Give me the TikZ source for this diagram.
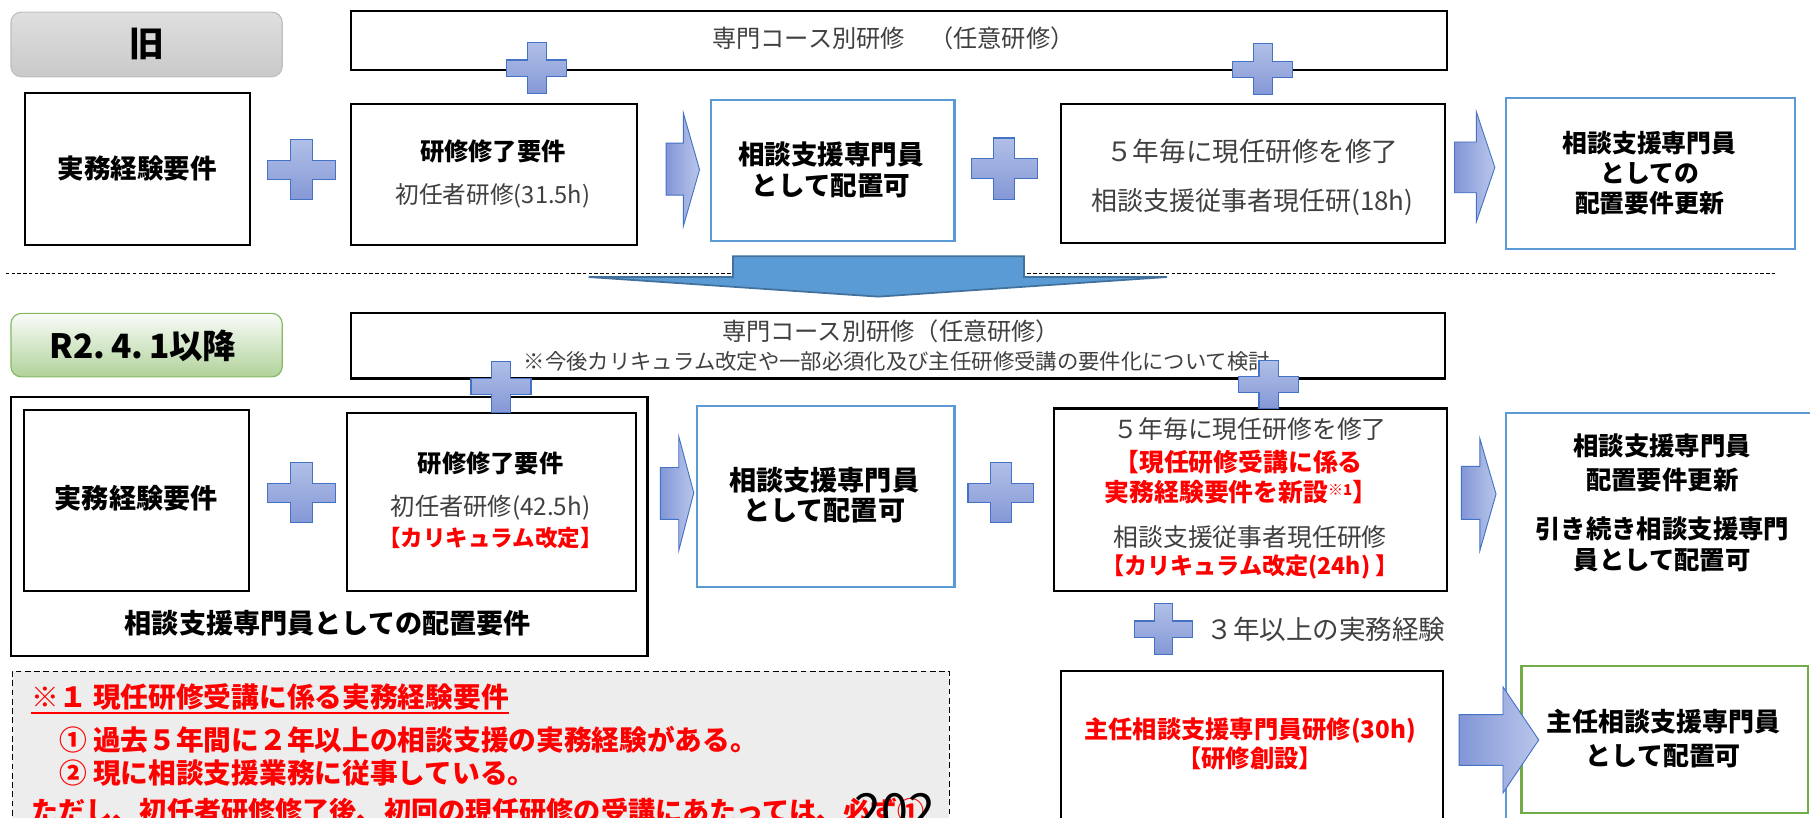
\documentclass[tikz,border=0pt]{standalone}
\usepackage{fontspec}
\setmainfont{Noto Sans CJK JP}
\definecolor{txtgray}{HTML}{404040}
\definecolor{boxblue}{HTML}{5B9BD5}
\definecolor{boxgreen}{HTML}{70AD47}
\definecolor{redtxt}{HTML}{FF0000}
\definecolor{plusA}{HTML}{B0BFE7}
\definecolor{plusB}{HTML}{8598D6}
\definecolor{plusdraw}{HTML}{4472C4}
\definecolor{arrowA}{HTML}{8296D6}
\definecolor{arrowB}{HTML}{B9C6EB}
\definecolor{downfill}{HTML}{5B9BD5}
\definecolor{downdraw}{HTML}{41719C}
\definecolor{notefill}{HTML}{EDEDED}
\newcommand{\crossat}[4]{%
  \begin{scope}[shift={(#1,#2)}, xscale=#3, yscale=#4]
    \path[crossfill] (-0.16,-0.5) -- (0.16,-0.5) -- (0.16,-0.16) -- (0.5,-0.16) -- (0.5,0.16) -- (0.16,0.16) -- (0.16,0.5) -- (-0.16,0.5) -- (-0.16,0.16) -- (-0.5,0.16) -- (-0.5,-0.16) -- (-0.16,-0.16) -- cycle;
  \end{scope}}
\tikzset{
  blackbox/.style={draw=black, line width=1.8pt, fill=white, inner sep=0pt, anchor=north west},
  bluebox/.style={draw=boxblue, line width=1.8pt, fill=white, inner sep=0pt, anchor=north west},
  greenbox/.style={draw=boxgreen, line width=2pt, fill=white, inner sep=0pt, anchor=north west},
  gt/.style={text=txtgray, inner sep=0pt, font=\fontsize{#1}{#1}\selectfont},
  bt/.style={text=black, inner sep=0pt, font=\fontsize{#1}{#1}\selectfont\bfseries},
  rt/.style={text=redtxt, inner sep=0pt, font=\fontsize{#1}{#1}\selectfont\bfseries},
  crossfill/.style={top color=plusA, bottom color=plusB, draw=plusdraw, line width=1pt},
  blockarrow/.style={left color=arrowA, right color=arrowB, draw=plusdraw, line width=0.8pt},
}
\begin{document}
\begin{tikzpicture}[x=1pt,y=-1pt]
\useasboundingbox (0,0) rectangle (1568,708);
\clip (0,0) rectangle (1568,708);
\fill[white] (0,0) rectangle (1568,708);

% ---------------- old section ----------------
\node[anchor=north west, minimum width=235pt, minimum height=56pt, rounded corners=9pt,
  top color=gray!25, bottom color=gray!42, draw=gray!50, line width=1pt] (badgeold) at (9,10) {};
\node[bt=30] (told) at (badgeold.center) {旧};

\node[blackbox, minimum width=950pt, minimum height=51pt] (course1) at (303,9) {};
\node[gt=21] (tcourse1) at (774,33) {専門コース別研修\hspace{1em}（任意研修）};

\node[blackbox, minimum width=195pt, minimum height=131pt] (a1) at (21,80) {};
\node[bt=23] (ta1) at (119,146) {実務経験要件};

\node[blackbox, minimum width=248pt, minimum height=122pt] (b1) at (303,89) {};
\node[bt=21] (tb1a) at (427,131) {研修修了要件};
\node[gt=20.5] (tb1b) at (427,170) {初任者研修(31.5h)};

\node[bluebox, minimum width=211pt, minimum height=122pt] (c1) at (615,86) {};
\node[bt=23] (tc1a) at (720,134) {相談支援専門員};
\node[bt=23] (tc1b) at (720,161) {として配置可};

\node[blackbox, minimum width=333pt, minimum height=121pt] (d1) at (918,89) {};
\node[gt=23] (td1a) at (1085,131) {５年毎に現任研修を修了};
\node[gt=22.5] (td1b) at (1085,175) {相談支援従事者現任研(18h)};

\node[bluebox, minimum width=250pt, minimum height=131pt] (e1) at (1304,84) {};
\node[bt=21.5] (te1a) at (1429,124) {相談支援専門員};
\node[bt=21.5] (te1b) at (1429,150) {としての};
\node[bt=21.5] (te1c) at (1429,176) {配置要件更新};

\crossat{465}{59}{52}{44}
\crossat{1094}{60}{52}{44}
\crossat{261}{147}{59}{52}
\crossat{870}{146}{57}{53}

\path[blockarrow] (577,124) -- (592,124) -- (592,98) -- (606,147) -- (592,196) -- (592,169) -- (577,169) -- cycle;
\path[blockarrow] (1260,123) -- (1279,123) -- (1279,97) -- (1295,145) -- (1279,192) -- (1279,167) -- (1260,167) -- cycle;

% separator and big down arrow
\draw[black, line width=0.8pt, dash pattern=on 3pt off 2pt] (5,237) -- (1538,237);
\path[fill=downfill, draw=downdraw, line width=1.5pt] (635,222) -- (887,222) -- (887,240) -- (1011,240) -- (761,257) -- (510,240) -- (635,240) -- cycle;

% ---------------- new section ----------------
\node[anchor=north west, minimum width=235pt, minimum height=55pt, rounded corners=9pt,
  top color=green!22!white!80!black!6, bottom color=boxgreen!55, draw=boxgreen!85, line width=1pt] (badgenew) at (9,271) {};
\node[bt=29] (tnew) at (124,300) {R2.\,4.\,1以降};

\node[blackbox, minimum width=948pt, minimum height=57pt] (course2) at (303,270) {};
\node[gt=21] (tcourse2a) at (772,287) {専門コース別研修（任意研修）};
\node[gt=18.5] (tcourse2b) at (777,313) {※今後カリキュラム改定や一部必須化及び主任研修受講の要件化について検討};

\node[blackbox, minimum width=551pt, minimum height=224pt] (outer) at (9,343) {};
\node[bt=23.5] (touter) at (284,540) {相談支援専門員としての配置要件};

\node[blackbox, minimum width=195pt, minimum height=157pt] (a2) at (20,354) {};
\node[bt=23.5] (ta2) at (118,432) {実務経験要件};

\node[blackbox, minimum width=250pt, minimum height=154pt] (b2) at (300,357) {};
\node[bt=21] (tb2a) at (425,401) {研修修了要件};
\node[gt=21] (tb2b) at (425,440) {初任者研修(42.5h)};
\node[rt=19.5] (tb2c) at (425,466) {【カリキュラム改定】};

\node[bluebox, minimum width=223pt, minimum height=157pt] (c2) at (603,351) {};
\node[bt=23.5] (tc2a) at (714,416) {相談支援専門員};
\node[bt=23.5] (tc2b) at (714,442) {として配置可};

\node[blackbox, minimum width=341pt, minimum height=158pt] (d2) at (912,353) {};
\node[gt=21.5] (td2a) at (1083,372) {５年毎に現任研修を修了};
\node[rt=21.5] (td2b) at (1073,400) {【現任研修受講に係る};
\node[rt=21.5] (td2c) at (1075,426) {実務経験要件を新設\raisebox{5pt}{\fontsize{13}{13}\selectfont ※1}】};
\node[gt=21.5] (td2d) at (1083,465) {相談支援従事者現任研修};
\node[rt=20] (td2e) at (1083,491) {【カリキュラム改定(24h) 】};

\node[gt=23, anchor=west] (tthree) at (1045,545) {３年以上の実務経験};

\node[blackbox, minimum width=331pt, minimum height=160pt] (f2) at (918,580) {};
\node[rt=21] (tf2a) at (1083,633) {主任相談支援専門員研修(30h)};
\node[rt=21] (tf2b) at (1083,657) {【研修創設】};

\node[bluebox, minimum width=280pt, minimum height=380pt] (e2) at (1304,357) {};
\node[bt=22] (te2a) at (1440,386) {相談支援専門員};
\node[bt=22] (te2b) at (1440,416) {配置要件更新};
\node[bt=22] (te2c) at (1440,458) {引き続き相談支援専門};
\node[bt=22] (te2d) at (1440,485) {員として配置可};

\node[greenbox, minimum width=248pt, minimum height=127pt] (g2) at (1317,576) {};
\node[bt=22.5] (tg2a) at (1441,625) {主任相談支援専門員};
\node[bt=22.5] (tg2b) at (1441,655) {として配置可};

\crossat{434}{335}{52}{44}
\crossat{1099}{333}{52}{42}
\crossat{261}{427}{59}{52}
\crossat{867}{427}{57}{52}
\crossat{1008}{545}{50}{44}

\path[blockarrow] (572,405) -- (588,405) -- (588,378) -- (601,427) -- (588,477) -- (588,450) -- (572,450) -- cycle;
\path[blockarrow] (1266,404) -- (1282,404) -- (1282,380) -- (1296,428) -- (1282,477) -- (1282,450) -- (1266,450) -- cycle;
\path[blockarrow] (1264,619) -- (1302,619) -- (1302,595) -- (1333,641) -- (1302,687) -- (1302,663) -- (1264,663) -- cycle;

% ---------------- note ----------------
\node[anchor=north west, minimum width=812pt, minimum height=160pt, fill=notefill, draw=black, line width=1pt, dash pattern=on 5pt off 3pt] (note) at (10,581) {};
\node[rt=24, anchor=west] (fn1) at (27,604) {※１ 現任研修受講に係る実務経験要件};
\draw[redtxt, line width=1.3pt] ([yshift=-2pt]fn1.south west) -- ([yshift=-2pt]fn1.south east);
\node[rt=24, anchor=west] (fn2) at (51,641) {① 過去５年間に２年以上の相談支援の実務経験がある。};
\node[rt=24, anchor=west] (fn3) at (51,670) {② 現に相談支援業務に従事している。};
\node[rt=23.5, anchor=west] (fn4) at (27,703) {ただし、初任者研修修了後、初回の現任研修の受講にあたっては、必ず①};
\node[text=black, inner sep=0pt, anchor=north west, font=\fontsize{42}{42}\selectfont] (pagenum) at (740,687) {202};
\end{tikzpicture}
\end{document}
